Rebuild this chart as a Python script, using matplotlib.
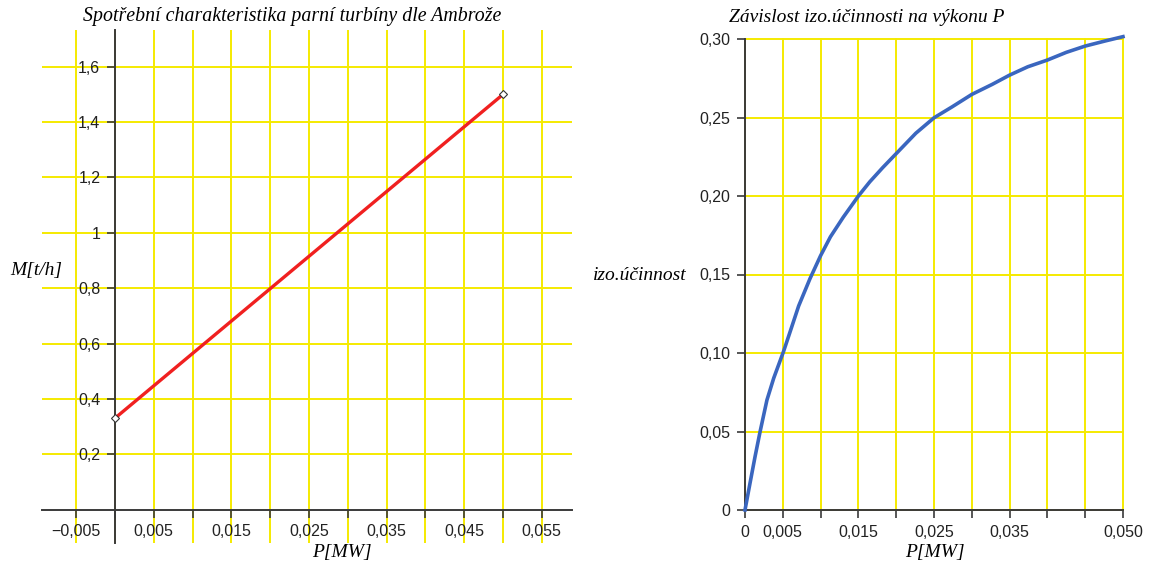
import matplotlib
matplotlib.use("Agg")
import matplotlib.pyplot as plt

plt.rcParams["font.family"] = ["Liberation Sans", "DejaVu Sans"]

# left chart: consumption characteristic (straight line between two points)
p_line = [0.0, 0.05]
m_line = [0.33, 1.50]
left_xticks = [-0.005, 0.0, 0.005, 0.01, 0.015, 0.02, 0.025, 0.03,
               0.035, 0.04, 0.045, 0.05, 0.055]
left_xlabels = ["\u22120,005", "", "0,005", "", "0,015", "", "0,025", "",
                "0,035", "", "0,045", "", "0,055"]
left_yticks = [0.2, 0.4, 0.6, 0.8, 1.0, 1.2, 1.4, 1.6]
left_ylabels = ["0,2", "0,4", "0,6", "0,8", "1", "1,2", "1,4", "1,6"]

# right chart: isentropic efficiency vs power
p_eta = [0.0, 0.00066, 0.00133, 0.002, 0.0029, 0.0038, 0.0051, 0.006,
         0.0071, 0.0086, 0.010, 0.0113, 0.013, 0.015, 0.0165, 0.0182,
         0.020, 0.0226, 0.025, 0.0274, 0.030, 0.0327, 0.035, 0.0374,
         0.040, 0.0425, 0.045, 0.0476, 0.050]
eta = [0.0, 0.017, 0.034, 0.050, 0.0700, 0.0840, 0.1010, 0.1140,
       0.1300, 0.1474, 0.162, 0.174, 0.1865, 0.200, 0.209, 0.218,
       0.227, 0.240, 0.2498, 0.2568, 0.2647, 0.2711, 0.277, 0.2823,
       0.2866, 0.2915, 0.2955, 0.2987, 0.3015]
right_xticks = [0.0, 0.005, 0.01, 0.015, 0.02, 0.025, 0.03, 0.035,
                0.04, 0.045, 0.05]
right_xlabels = ["0", "0,005", "", "0,015", "", "0,025", "", "0,035",
                 "", "", "0,050"]
right_yticks = [0.0, 0.05, 0.10, 0.15, 0.20, 0.25, 0.30]
right_ylabels = ["0", "0,05", "0,10", "0,15", "0,20", "0,25", "0,30"]

GRID = "#f5ea00"
AXC = "#3a3a3a"
W, H = 1149, 567
serif_it = dict(family=["Liberation Serif", "DejaVu Serif"], style="italic")


def style_axes(ax):
    for s in ["top", "right"]:
        ax.spines[s].set_visible(False)
    for s in ["left", "bottom"]:
        ax.spines[s].set_color(AXC)
        ax.spines[s].set_linewidth(1.4)
    ax.tick_params(direction="out", length=5.5, width=1.2, color=AXC,
                   labelsize=11.5, labelcolor="#222222", pad=5)
    ax.grid(True, color=GRID, linewidth=1.4)
    ax.set_axisbelow(True)


fig = plt.figure(figsize=(W / 100, H / 100), dpi=100)

# ---- left panel
ax1 = fig.add_axes([42 / W, 1 - 543 / H, 530 / W, 513 / H])
style_axes(ax1)
ax1.spines["left"].set_position(("data", 0))
ax1.spines["bottom"].set_position(("data", 0))
ax1.set_xlim(-0.0094, 0.0589)
ax1.set_ylim(-0.121, 1.733)
ax1.set_xticks(left_xticks)
ax1.set_xticklabels(left_xlabels)
ax1.set_yticks(left_yticks)
ax1.set_yticklabels(left_ylabels)
ax1.plot(p_line, m_line, color="#f02020", linewidth=2.4, zorder=3)
ax1.plot(p_line, m_line, linestyle="none", marker="D", markersize=4,
         markerfacecolor="white", markeredgecolor="#333333",
         markeredgewidth=0.8, zorder=4)

fig.text(292 / W, 1 - 17 / H, "Spot\u0159ebn\u00ed charakteristika parn\u00ed turb\u00edny dle Ambro\u017ee",
         ha="center", va="center", fontsize=14.3, **serif_it)
fig.text(36 / W, 1 - 270 / H, "M[t/h]", ha="center", va="center",
         fontsize=14, **serif_it)
fig.text(342 / W, 1 - 553 / H, "P[MW]", ha="center", va="center",
         fontsize=14, **serif_it)

# ---- right panel
ax2 = fig.add_axes([745 / W, 1 - 510 / H, 378 / W, 471 / H])
style_axes(ax2)
ax2.set_xlim(0, 0.05)
ax2.set_ylim(0, 0.30)
ax2.set_xticks(right_xticks)
ax2.set_xticklabels(right_xlabels)
ax2.set_yticks(right_yticks)
ax2.set_yticklabels(right_ylabels)
for gl in ax2.get_xgridlines() + ax2.get_ygridlines():
    gl.set_clip_on(False)
ax2.plot(p_eta, eta, color="#3a66bf", linewidth=2.6, zorder=3, clip_on=False)

fig.text(867 / W, 1 - 17 / H, "Z\u00e1vislost izo.\u00fa\u010dinnosti na v\u00fdkonu P",
         ha="center", va="center", fontsize=14, **serif_it)
fig.text(640 / W, 1 - 275 / H, "izo.\u00fa\u010dinnost", ha="center", va="center",
         fontsize=14, **serif_it)
fig.text(935 / W, 1 - 553 / H, "P[MW]", ha="center", va="center",
         fontsize=14, **serif_it)

fig.savefig("out.png", dpi=100)
